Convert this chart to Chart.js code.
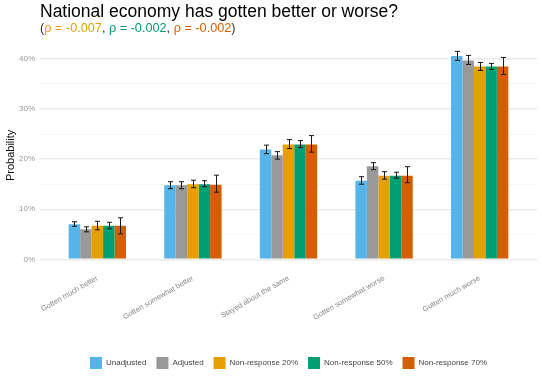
<!DOCTYPE html>
<html>
<head>
<meta charset="utf-8">
<script src="https://cdn.jsdelivr.net/npm/chart.js@4"></script>
<style>
  html, body { margin:0; padding:0; background:#fff; }
  #wrap { position:relative; width:542px; height:379px; font-family:"Liberation Sans", Arial, sans-serif; }
  #title { position:absolute; left:40px; top:1px; font-size:17.5px; color:#000; white-space:nowrap; }
  #sub { position:absolute; left:40px; top:21px; font-size:12.7px; color:#333; white-space:nowrap; }
  canvas { position:absolute; left:0; top:0; }
</style>
</head>
<body>
<div id="wrap">
  <canvas id="graf" width="542" height="379"></canvas>
  <div id="title">National economy has gotten better or worse?</div>
  <div id="sub">(<span style="color:#E69F00">ρ = -0.007</span>, <span style="color:#009E73">ρ = -0.002</span>, <span style="color:#D55E00">ρ = -0.002</span>)</div>
</div>
<script>
/* categorías y series (en %) */
const categorias = ['Gotten much better', 'Gotten somewhat better', 'Stayed about the same', 'Gotten somewhat worse', 'Gotten much worse'];
const series = ['Unadjusted', 'Adjusted', 'Non-response 20%', 'Non-response 50%', 'Non-response 70%'];
const colores = ['#56B4E9', '#999999', '#E69F00', '#009E73', '#D55E00'];

const unadjusted = [7.0, 14.8, 21.9, 15.7, 40.6];
const adjusted   = [6.0, 14.8, 20.8, 18.6, 39.7];
const nr20       = [6.7, 15.0, 22.9, 16.7, 38.5];
const nr50       = [6.7, 15.0, 22.9, 16.7, 38.5];
const nr70       = [6.7, 14.9, 22.9, 16.7, 38.5];

// intervalos (bajo / alto)
const unadjustedLo = [6.6, 14.1, 21.1, 15.0, 39.7];
const unadjustedHi = [7.5, 15.5, 22.8, 16.5, 41.5];
const adjustedLo   = [5.5, 14.1, 20.0, 17.9, 38.9];
const adjustedHi   = [6.5, 15.5, 21.5, 19.3, 40.7];
const nr20Lo       = [5.9, 14.3, 22.1, 16.0, 37.7];
const nr20Hi       = [7.6, 15.8, 23.9, 17.5, 39.3];
const nr50Lo       = [6.1, 14.5, 22.3, 16.2, 37.9];
const nr50Hi       = [7.4, 15.7, 23.7, 17.4, 39.1];
const nr70Lo       = [5.1, 13.4, 21.4, 15.3, 36.9];
const nr70Hi       = [8.3, 16.8, 24.7, 18.5, 40.3];

const yTicks = [0, 5, 10, 15, 20, 25, 30, 35, 40];

const valores = [unadjusted, adjusted, nr20, nr50, nr70];
const bajos = [unadjustedLo, adjustedLo, nr20Lo, nr50Lo, nr70Lo];
const altos = [unadjustedHi, adjustedHi, nr20Hi, nr50Hi, nr70Hi];

// barras de error dibujadas con las escalas del gráfico
const errorBars = {
  id: 'errorBars',
  afterDatasetsDraw (chart) {
    const ctx = chart.ctx;
    const y = chart.scales.y;
    ctx.save();
    ctx.strokeStyle = '#1a1a1a';
    ctx.lineWidth = 1;
    chart.data.datasets.forEach((ds, i) => {
      chart.getDatasetMeta(i).data.forEach((bar, j) => {
        const x = Math.round(bar.x) + 0.5;
        const y1 = y.getPixelForValue(bajos[i][j]);
        const y2 = y.getPixelForValue(altos[i][j]);
        ctx.beginPath();
        ctx.moveTo(x, y1); ctx.lineTo(x, y2);
        ctx.moveTo(x - 2.5, y1); ctx.lineTo(x + 2.5, y1);
        ctx.moveTo(x - 2.5, y2); ctx.lineTo(x + 2.5, y2);
        ctx.stroke();
      });
    });
    ctx.restore();
  }
};

new Chart(document.getElementById('graf'), {
  type: 'bar',
  data: {
    datasets: series.map((s, i) => ({
      label: s,
      data: valores[i].map((v, j) => ({ x: j + 1, y: v })),
      backgroundColor: colores[i],
      borderWidth: 0,
      categoryPercentage: 0.6,
      barPercentage: 1
    }))
  },
  options: {
    responsive: false,
    animation: false,
    layout: { padding: { top: 41, right: 5, bottom: 0, left: 0 } },
    plugins: {
      tooltip: { enabled: false },
      legend: {
        position: 'bottom',
        fullSize: false,
        labels: {
          boxWidth: 12, boxHeight: 12, padding: 10,
          color: '#444',
          font: { family: 'Liberation Sans', size: 8 }
        }
      }
    },
    scales: {
      x: {
        type: 'linear',
        offset: false,
        min: 0.4, max: 5.6,
        grid: { display: false },
        border: { display: false },
        afterBuildTicks: s => { s.ticks = categorias.map((c, i) => ({ value: i + 1 })); },
        afterFit: s => { s.height += 29; },
        ticks: {
          autoSkip: false,
          minRotation: 30, maxRotation: 30,
          padding: -4,
          color: '#888',
          font: { family: 'Liberation Sans', size: 7.5 },
          callback: v => categorias[v - 1]
        }
      },
      y: {
        min: -2.075, max: 43.575,
        afterBuildTicks: s => { s.ticks = yTicks.map(v => ({ value: v })); },
        afterFit: s => { s.width = 40; },
        border: { display: false },
        grid: {
          tickLength: 0,
          color: c => (c.tick.value % 10 === 0 ? '#ebebeb' : '#f6f6f6'),
          lineWidth: c => (c.tick.value % 10 === 0 ? 1.5 : 1)
        },
        ticks: {
          padding: 5,
          color: '#999',
          font: { family: 'Liberation Sans', size: 8 },
          callback: v => (v % 10 === 0 ? v + '%' : '')
        },
        title: {
          display: true, text: 'Probability', color: '#111',
          font: { family: 'Liberation Sans', size: 11 },
          padding: { top: 4, bottom: 0 }
        }
      }
    }
  },
  plugins: [errorBars]
});
</script>
</body>
</html>
